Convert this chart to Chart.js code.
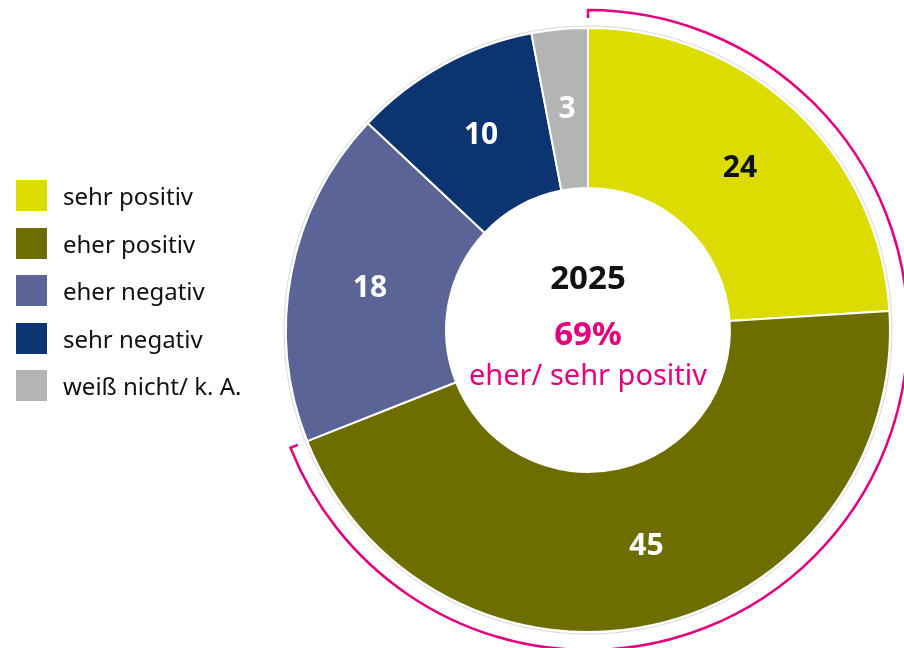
<!DOCTYPE html>
<html>
<head>
<meta charset="utf-8">
<script src="https://cdn.jsdelivr.net/npm/chart.js@4/dist/chart.umd.min.js"></script>
<style>
  html, body { margin: 0; padding: 0; background: #fff; }
  #wrap { position: relative; width: 904px; height: 648px; }
  #legend { position: absolute; left: 16px; top: 172px; font-family: 'Noto Sans', sans-serif; font-size: 24px; color: #111; }
  .item { display: flex; align-items: center; height: 47.5px; }
  .box { width: 31px; height: 31px; margin-right: 16px; }
</style>
</head>
<body>
<div id="wrap">
  <canvas id="chart" width="904" height="648"></canvas>
  <div id="legend"></div>
</div>
<script>
// Daten
const categories = ['sehr positiv', 'eher positiv', 'eher negativ', 'sehr negativ', 'weiß nicht/ k. A.'];
const values = [24, 45, 18, 10, 3];
const colors = ['#dcdc00', '#6e6e00', '#5a6496', '#0c3470', '#b4b4b4'];
const labelColors = ['#111', '#fff', '#fff', '#fff', '#fff'];
const centerYear = '2025';
const centerShare = '69%';
const centerText = 'eher/ sehr positiv';

// Legende
const legend = document.getElementById('legend');
categories.forEach((c, i) => {
    const row = document.createElement('div');
    row.className = 'item';
    row.innerHTML = `<div class="box" style="background:${colors[i]}"></div><span>${c}</span>`;
    legend.appendChild(row);
});

const magenta = '#e6007e';

const extras = {
    id: 'extras',
    afterDatasetsDraw(chart) {
        const ctx = chart.ctx;
        const meta = chart.getDatasetMeta(0);
        const first = meta.data[0];
        const cx = first.x, cy = first.y, R = first.outerRadius;

        // feine graue Außenlinie
        ctx.save();
        ctx.strokeStyle = '#d8d8d8';
        ctx.lineWidth = 1;
        ctx.beginPath();
        ctx.arc(cx, cy, R + 2, 0, Math.PI * 2);
        ctx.stroke();

        // Klammer für eher/sehr positiv
        const a0 = meta.data[0].startAngle;
        const a1 = meta.data[1].endAngle;
        const rb = R + 18;
        ctx.strokeStyle = magenta;
        ctx.lineWidth = 2.5;
        ctx.beginPath();
        ctx.moveTo(cx + (rb - 8) * Math.cos(a0), cy + (rb - 8) * Math.sin(a0));
        ctx.lineTo(cx + rb * Math.cos(a0), cy + rb * Math.sin(a0));
        ctx.arc(cx, cy, rb, a0, a1);
        ctx.lineTo(cx + (rb - 8) * Math.cos(a1), cy + (rb - 8) * Math.sin(a1));
        ctx.stroke();

        // Werte in den Segmenten
        ctx.font = 'bold 30px "Noto Sans", sans-serif';
        ctx.textAlign = 'center';
        ctx.textBaseline = 'middle';
        meta.data.forEach((arc, i) => {
            const p = arc.tooltipPosition();
            ctx.fillStyle = labelColors[i];
            ctx.fillText(values[i], p.x + (i === 1 ? 10 : 0), p.y);
        });

        // Text in der Mitte
        ctx.fillStyle = '#111';
        ctx.font = 'bold 33px "Noto Sans", sans-serif';
        ctx.fillText(centerYear, cx, cy - 50);
        ctx.fillStyle = magenta;
        ctx.fillText(centerShare, cx, cy + 6);
        ctx.font = '29px "Noto Sans", sans-serif';
        ctx.fillText(centerText, cx, cy + 47);
        ctx.restore();
    }
};

new Chart(document.getElementById('chart'), {
    type: 'doughnut',
    data: {
        labels: categories,
        datasets: [{
            data: values,
            backgroundColor: colors,
            borderColor: '#fff',
            borderWidth: 2
        }]
    },
    options: {
        responsive: false,
        animation: false,
        cutout: '47%',
        layout: { padding: { left: 285, right: 13, top: 27, bottom: 15 } },
        plugins: {
            legend: { display: false },
            tooltip: { enabled: false }
        }
    },
    plugins: [extras]
});
</script>
</body>
</html>
